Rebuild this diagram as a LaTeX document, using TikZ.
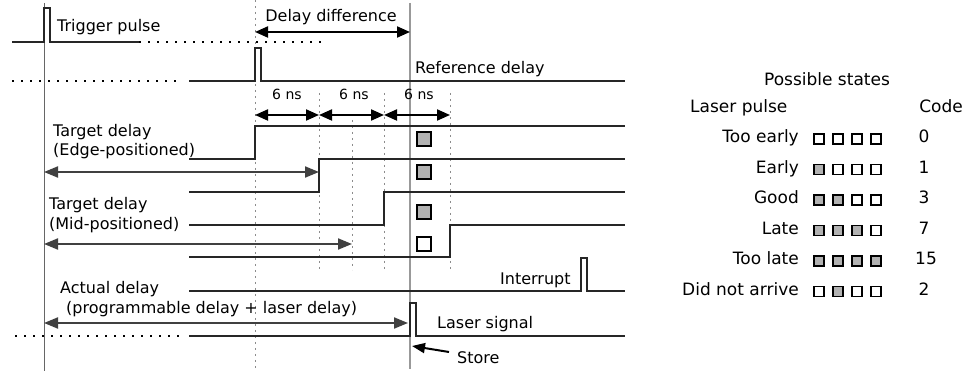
\documentclass[tikz,border=0pt]{standalone}
\usepackage{fontspec}
\setmainfont{DejaVu Sans}
\usetikzlibrary{positioning, arrows.meta}

\tikzset{
  wave/.style={line width=2pt, black!85, line join=miter},
  guide/.style={black!45, dash pattern=on 2pt off 4pt, line width=1pt},
  trail/.style={black, dash pattern=on 1.5pt off 7.5pt, line width=1.5pt},
  span/.style={line width=2pt, black!75,
    {Triangle[length=14pt,width=11pt]}-{Triangle[length=14pt,width=11pt]}},
  gap/.style={line width=2pt, black,
    {Triangle[length=13pt,width=11pt]}-{Triangle[length=13pt,width=11pt]}},
  lbl/.style={font=\fontsize{16}{18}\selectfont, inner sep=0pt},
  tbl/.style={font=\fontsize{17}{19}\selectfont, inner sep=0pt},
  small/.style={font=\fontsize{14}{16}\selectfont, inner sep=0pt},
  flag/.style={draw, line width=1.8pt, minimum size=14pt, inner sep=0pt},
  bit/.style={draw, line width=1.3pt, minimum size=10pt, inner sep=0pt},
  bitset/.style={bit, fill=black!30},
  bitclr/.style={bit, fill=white}
}

\begin{document}
\begin{tikzpicture}[x=1pt, y=-1pt]
  \useasboundingbox (0,0) rectangle (969,371);

  % Time markers
  \draw[guide] (255,0) -- (255,371);
  \draw[guide] (319,93) -- (319,270);
  \draw[guide] (352,120) -- (352,270);
  \draw[guide] (384,93) -- (384,270);
  \draw[guide] (450,93) -- (450,270);
  \draw[black!60, line width=1pt] (44,3) -- (44,371);
  \draw[black!40, line width=2pt] (410,3) -- (410,369);

  % Signals
  \draw[wave] (12,42) -- (44,42) -- (44,8) -- (50,8) -- (50,42) -- (139,42);
  \draw[trail] (139,42) -- (325,42);
  \draw[trail] (12,81) -- (183,81);
  \draw[wave] (189,81) -- (255,81) -- (255,48) -- (261,48) -- (261,81) -- (625,81);
  \draw[wave] (189,159) -- (255,159) -- (255,126) -- (625,126);
  \draw[wave] (189,192) -- (319,192) -- (319,159) -- (625,159);
  \draw[wave] (189,225) -- (384,225) -- (384,192) -- (625,192);
  \draw[wave] (189,257) -- (450,257) -- (450,225) -- (625,225);
  \draw[wave] (189,291) -- (581,291) -- (581,258) -- (587,258) -- (587,291) -- (625,291);
  \draw[trail] (15,336) -- (183,336);
  \draw[wave] (189,336) -- (410,336) -- (410,303) -- (416,303) -- (416,336) -- (625,336);

  % Labels
  \node[lbl, anchor=base west] (trig) at (57,32) {Trigger pulse};
  \node[lbl, anchor=base] (ddiff) at (331,22) {Delay difference};
  \node[lbl, anchor=base west] (refd) at (415,74) {Reference delay};
  \node[small, anchor=base] (ns1) at (287,100) {6 ns};
  \node[small, anchor=base] (ns2) at (354,100) {6 ns};
  \node[small, anchor=base] (ns3) at (419,100) {6 ns};
  \node[lbl, anchor=base west] (edge1) at (53,137) {Target delay};
  \node[lbl, anchor=base west] (edge2) at (53,156) {(Edge-positioned)};
  \node[lbl, anchor=base west] (mid1) at (49,210) {Target delay};
  \node[lbl, anchor=base west] (mid2) at (49,230) {(Mid-positioned)};
  \node[lbl, anchor=base west] (act1) at (60,294) {Actual delay};
  \node[lbl, anchor=base west] (act2) at (66,313) {(programmable delay + laser delay)};
  \node[lbl, anchor=base west] (intr) at (500,285) {Interrupt};
  \node[lbl, anchor=base west] (lsig) at (437,328) {Laser signal};
  \node[lbl, anchor=base west] (store) at (457,363) {Store};

  % Sampled states
  \node[flag, fill=black!30] (smp1) at (424,139) {};
  \node[flag, fill=black!30] (smp2) at (424,172) {};
  \node[flag, fill=black!30] (smp3) at (424,212) {};
  \node[flag, fill=white] (smp4) at (424,244) {};

  % Arrows
  \coordinate (dd1) at (255,32);
  \coordinate (dd2) at (410,32);
  \coordinate (t0) at (255,115);
  \coordinate (t1) at (319,115);
  \coordinate (t2) at (384,115);
  \coordinate (t3) at (450,115);
  \coordinate (ea) at (44,172);
  \coordinate (eb) at (319,172);
  \coordinate (ma) at (44,244);
  \coordinate (mb) at (352,244);
  \coordinate (aa) at (44,323);
  \coordinate (ab) at (408,323);
  \coordinate (sttail) at (449,352);
  \coordinate (sthead) at (412,346);
  \draw[gap] (dd1) -- (dd2);
  \draw[gap] (t0) -- (t1);
  \draw[gap] (t1) -- (t2);
  \draw[gap] (t2) -- (t3);
  \draw[span] (ea) -- (eb);
  \draw[span] (ma) -- (mb);
  \draw[span] (aa) -- (ab);
  \draw[line width=2pt, -{Triangle[length=13pt,width=10pt]}] (sttail) -- (sthead);

  % Possible states
  \node[tbl, anchor=base] (poss) at (827,86) {Possible states};
  \node[tbl, anchor=base west] (lpulse) at (690,113) {Laser pulse};
  \node[tbl, anchor=base east] (code) at (963,113) {Code};

  \node[tbl, anchor=base east] (r1) at (799,143) {Too early};
  \node[bitclr] (b11) at (819,139) {};
  \node[bitclr] (b12) at (838,139) {};
  \node[bitclr] (b13) at (857,139) {};
  \node[bitclr] (b14) at (876,139) {};
  \node[tbl, anchor=base] (c1) at (924,143) {0};

  \node[tbl, anchor=base east] (r2) at (799,173.5) {Early};
  \node[bitset] (b21) at (819,169.5) {};
  \node[bitclr] (b22) at (838,169.5) {};
  \node[bitclr] (b23) at (857,169.5) {};
  \node[bitclr] (b24) at (876,169.5) {};
  \node[tbl, anchor=base] (c2) at (924,173.5) {1};

  \node[tbl, anchor=base east] (r3) at (799,204) {Good};
  \node[bitset] (b31) at (819,200) {};
  \node[bitset] (b32) at (838,200) {};
  \node[bitclr] (b33) at (857,200) {};
  \node[bitclr] (b34) at (876,200) {};
  \node[tbl, anchor=base] (c3) at (924,204) {3};

  \node[tbl, anchor=base east] (r4) at (799,234.5) {Late};
  \node[bitset] (b41) at (819,230.5) {};
  \node[bitset] (b42) at (838,230.5) {};
  \node[bitset] (b43) at (857,230.5) {};
  \node[bitclr] (b44) at (876,230.5) {};
  \node[tbl, anchor=base] (c4) at (924,234.5) {7};

  \node[tbl, anchor=base east] (r5) at (799,265) {Too late};
  \node[bitset] (b51) at (819,261) {};
  \node[bitset] (b52) at (838,261) {};
  \node[bitset] (b53) at (857,261) {};
  \node[bitset] (b54) at (876,261) {};
  \node[tbl, anchor=base] (c5) at (926,265) {15};

  \node[tbl, anchor=base east] (r6) at (799,295.5) {Did not arrive};
  \node[bitclr] (b61) at (819,291.5) {};
  \node[bitset] (b62) at (838,291.5) {};
  \node[bitclr] (b63) at (857,291.5) {};
  \node[bitclr] (b64) at (876,291.5) {};
  \node[tbl, anchor=base] (c6) at (924,295.5) {2};
\end{tikzpicture}
\end{document}
